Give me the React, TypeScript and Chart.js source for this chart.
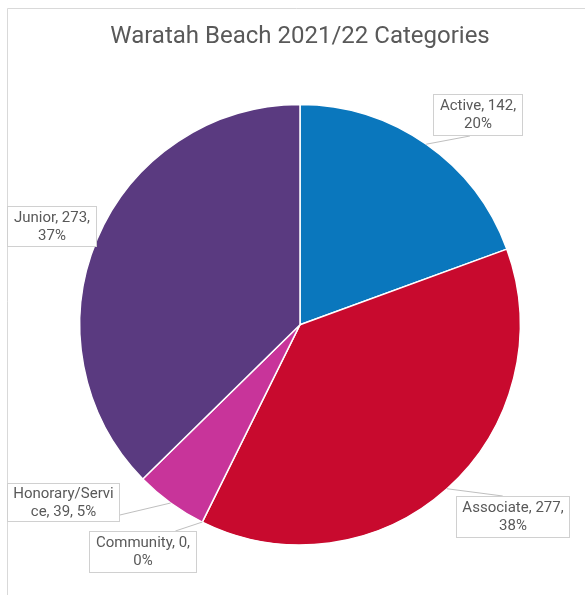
import React, { useEffect, useRef } from "react";
import { Chart, registerables } from "chart.js";

Chart.register(...registerables);

const TITLE = "Waratah Beach 2021/22 Categories";
const CATEGORIES = ["Active", "Associate", "Community", "Honorary/Service", "Junior"];
const MEMBERS = [142, 277, 0, 39, 273];
const PERCENT_LABELS = [20, 38, 0, 5, 37];
const COLORS = ["#0a77bd", "#c80a2e", "#8c8c8c", "#c8349a", "#5a3a80"];

// Callout layout: box top-left offset from the slice's edge anchor, box size,
// leader attach point (fraction of box), max text width before wrapping.
const LABEL_LAYOUT = [
  { dx: 7, dy: -50, w: 90, h: 42, fx: 0.41, fy: 1, maxW: 86 },
  { dx: 9, dy: 7, w: 114, h: 42, fx: 0.41, fy: 0, maxW: 110 },
  { dx: -113, dy: 9, w: 108, h: 42, fx: 0.8, fy: 0, maxW: 104 },
  { dx: -164, dy: -20, w: 113, h: 39, fx: 1, fy: 0.82, maxW: 106 },
  { dx: -90, dy: -33, w: 90, h: 41, fx: 1, fy: 0.8, maxW: 86 },
];

const FONT = "Roboto, 'Noto Sans', sans-serif";

function wrapText(ctx: CanvasRenderingContext2D, text: string, maxW: number): string[] {
  const words = text.split(" ");
  const lines: string[] = [];
  let cur = "";
  for (const word of words) {
    const trial = cur ? cur + " " + word : word;
    if (ctx.measureText(trial).width <= maxW) {
      cur = trial;
      continue;
    }
    if (cur) {
      lines.push(cur);
      cur = "";
    }
    if (ctx.measureText(word).width <= maxW) {
      cur = word;
    } else {
      let piece = "";
      for (const ch of word) {
        if (ctx.measureText(piece + ch).width > maxW && piece) {
          lines.push(piece);
          piece = ch;
        } else {
          piece += ch;
        }
      }
      cur = piece;
    }
  }
  if (cur) lines.push(cur);
  return lines;
}

const framePlugin = {
  id: "frame",
  beforeDraw(chart: any) {
    const ctx = chart.ctx;
    ctx.save();
    ctx.fillStyle = "#ffffff";
    ctx.fillRect(0, 0, chart.width, chart.height);
    ctx.strokeStyle = "#d9d9d9";
    ctx.lineWidth = 1;
    ctx.beginPath();
    ctx.moveTo(7.5, chart.height);
    ctx.lineTo(7.5, 8.5);
    ctx.lineTo(chart.width, 8.5);
    ctx.stroke();
    ctx.restore();
  },
};

const calloutPlugin = {
  id: "callouts",
  afterDatasetsDraw(chart: any) {
    const ctx: CanvasRenderingContext2D = chart.ctx;
    const meta = chart.getDatasetMeta(0);
    ctx.save();
    ctx.font = `15px ${FONT}`;
    meta.data.forEach((arc: any, i: number) => {
      const { x, y, startAngle, endAngle, outerRadius } = arc.getProps(
        ["x", "y", "startAngle", "endAngle", "outerRadius"],
        true
      );
      const mid = (startAngle + endAngle) / 2;
      const ax = x + Math.cos(mid) * outerRadius;
      const ay = y + Math.sin(mid) * outerRadius;
      const L = LABEL_LAYOUT[i];
      const bx = Math.round(ax + L.dx);
      const by = Math.round(ay + L.dy);
      const ex = bx + L.w * L.fx;
      const ey = by + L.h * L.fy;

      ctx.strokeStyle = "#bfbfbf";
      ctx.lineWidth = 1;
      ctx.beginPath();
      ctx.moveTo(ax, ay);
      ctx.lineTo(ex, ey);
      ctx.stroke();

      ctx.fillStyle = "#ffffff";
      ctx.fillRect(bx, by, L.w, L.h);
      ctx.strokeStyle = "#d0d0d0";
      ctx.strokeRect(bx + 0.5, by + 0.5, L.w - 1, L.h - 1);

      const text = `${CATEGORIES[i]}, ${MEMBERS[i]}, ${PERCENT_LABELS[i]}%`;
      const lines = wrapText(ctx, text, L.maxW);
      const lh = 18;
      const cx = bx + L.w / 2;
      const cy = by + L.h / 2 + 0.5;
      ctx.fillStyle = "#595959";
      ctx.textAlign = "center";
      ctx.textBaseline = "middle";
      lines.forEach((ln, k) => {
        ctx.fillText(ln, cx, cy + (k - (lines.length - 1) / 2) * lh);
      });
    });
    ctx.restore();
  },
};

export default function App() {
  const ref = useRef<HTMLCanvasElement | null>(null);

  useEffect(() => {
    const canvas = ref.current;
    if (!canvas) return;
    const chart = new Chart(canvas, {
      type: "pie",
      data: {
        labels: CATEGORIES,
        datasets: [
          {
            data: MEMBERS,
            backgroundColor: COLORS,
            borderColor: "#ffffff",
            borderWidth: 1.5,
          },
        ],
      },
      options: {
        responsive: false,
        animation: false,
        layout: { padding: { left: 79, right: 64, top: 0, bottom: 49 } },
        plugins: {
          legend: { display: false },
          tooltip: { enabled: false },
          title: {
            display: true,
            text: TITLE,
            color: "#595959",
            font: { family: FONT, size: 24, weight: "normal", lineHeight: 1.2 },
            padding: { top: 23, bottom: 51.6 },
          },
        },
      },
      plugins: [framePlugin, calloutPlugin],
    });
    return () => chart.destroy();
  }, []);

  return (
    <div style={{ position: "fixed", left: 0, top: 0, width: 585, height: 595, overflow: "hidden", background: "#fff" }}>
      <canvas ref={ref} width={585} height={595} style={{ display: "block", width: 585, height: 595 }} />
    </div>
  );
}
